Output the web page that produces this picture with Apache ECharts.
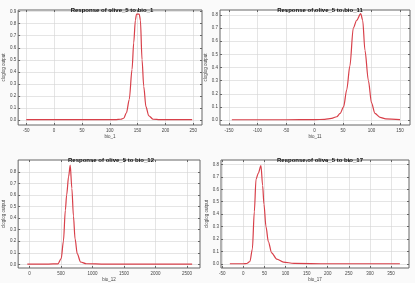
<!DOCTYPE html>
<html>
<head>
<meta charset="utf-8">
<script src="https://cdn.jsdelivr.net/npm/echarts@6/dist/echarts.min.js"></script>
<style>
html,body{margin:0;padding:0;background:#fff;}
#chart{width:415px;height:283px;}
</style>
</head>
<body>
<div id="chart"></div>
<script>
// response curves, one small set of arrays per panel
var titles = ["Response of olive_5 to bio_1", "Response of olive_5 to bio_11",
              "Response of olive_5 to bio_12", "Response of olive_5 to bio_17"];
var xNames = ["bio_1", "bio_11", "bio_12", "bio_17"];
var yName = "cloglog output";

var bio1X = [-50, 0, 50, 100, 110, 120, 125, 130, 135, 140, 143, 146, 148, 153, 155, 158, 161, 165, 170, 178, 190, 220, 248];
var bio1Y = [0.002, 0.002, 0.002, 0.002, 0.003, 0.006, 0.014, 0.06, 0.17, 0.42, 0.64, 0.83, 0.88, 0.88, 0.83, 0.5, 0.28, 0.11, 0.035, 0.006, 0.002, 0.002, 0.002];

var bio11X = [-145, -100, -50, 0, 18, 30, 39, 45, 51, 56.5, 62, 68, 74, 81, 84.5, 88.5, 94.5, 100, 106, 115, 125, 150];
var bio11Y = [0.002, 0.002, 0.002, 0.003, 0.005, 0.012, 0.025, 0.05, 0.1, 0.23, 0.41, 0.7, 0.76, 0.81, 0.76, 0.53, 0.3, 0.13, 0.05, 0.02, 0.008, 0.003];

var bio12X = [-35, 0, 300, 450, 503, 538, 569, 589, 620, 646, 672, 697, 723, 758, 811, 900, 1200, 2580];
var bio12Y = [0.002, 0.002, 0.002, 0.004, 0.05, 0.2, 0.47, 0.6, 0.76, 0.86, 0.66, 0.42, 0.22, 0.09, 0.02, 0.005, 0.002, 0.002];

var bio17X = [-32, 0, 8, 15.6, 21.3, 26, 30, 35.5, 41.7, 45.7, 48.8, 53.6, 59.2, 67, 79, 95, 120, 200, 371];
var bio17Y = [0.002, 0.002, 0.004, 0.02, 0.12, 0.42, 0.68, 0.73, 0.79, 0.63, 0.48, 0.3, 0.18, 0.09, 0.04, 0.015, 0.005, 0.002, 0.002];

var xTicks = [
    [-50, 0, 50, 100, 150, 200, 250],
    [-150, -100, -50, 0, 50, 100, 150],
    [0, 500, 1000, 1500, 2000, 2500],
    [-50, 0, 50, 100, 150, 200, 250, 300, 350]
];
var yTicks = [
    [0, 0.1, 0.2, 0.3, 0.4, 0.5, 0.6, 0.7, 0.8, 0.9],
    [0, 0.1, 0.2, 0.3, 0.4, 0.5, 0.6, 0.7, 0.8],
    [0, 0.1, 0.2, 0.3, 0.4, 0.5, 0.6, 0.7, 0.8],
    [0, 0.1, 0.2, 0.3, 0.4, 0.5, 0.6, 0.7, 0.8]
];
var xRange = [[-64.6, 265.7], [-165.8, 167.5], [-180, 2705], [-53, 392.6]];
var yRange = [[-0.042, 0.914], [-0.038, 0.838], [-0.032, 0.905], [-0.032, 0.835]];

var curvesX = [bio1X, bio11X, bio12X, bio17X];
var curvesY = [bio1Y, bio11Y, bio12Y, bio17Y];

// panel boxes
var boxes = [
    {left: 12, top: 10, width: 190, height: 115},
    {left: 220, top: 10, width: 190, height: 115},
    {left: 12, top: 160, width: 188, height: 116},
    {left: 221, top: 160, width: 188, height: 116}
];

var FONT = "Liberation Sans";
var grids = [], xAxes = [], yAxes = [], series = [], titleList = [];

function pairs(xs, ys){
    var out = [];
    for(var i=0;i<xs.length;i++){ out.push([xs[i], ys[i]]); }
    return out;
}

var tickStyle = {color:'#666'};
var gridLine = {show:true, lineStyle:{color:'#d4d4d4', width:0.6}};

for(var p=0;p<4;p++){
    var b = boxes[p];
    grids.push({left:b.left, top:b.top, width:b.width, height:b.height,
        show:true, backgroundColor:'#fff', borderColor:'#666', borderWidth:1});
    titleList.push({
        text: titles[p],
        left: b.left + b.width/2, top: b.top - 8, textAlign: 'center',
        textStyle: {fontSize: 6, fontWeight: 'bold', color: '#111', fontFamily: FONT}
    });
    // bottom x axis with labels
    xAxes.push({
        type:'value', gridIndex:p, position:'bottom', min:xRange[p][0], max:xRange[p][1],
        name: xNames[p], nameLocation:'middle', nameGap:9,
        nameTextStyle:{fontSize:4.5, color:'#444', fontFamily:FONT},
        axisLine:{show:false, onZero:false},
        axisTick:{inside:true, length:2, customValues:xTicks[p], lineStyle:tickStyle},
        axisLabel:{fontSize:4.5, color:'#444', margin:3, fontFamily:FONT, customValues:xTicks[p],
            formatter:function(v){ return String(v); }},
        splitLine:gridLine
    });
    // top mirror for ticks
    xAxes.push({
        type:'value', gridIndex:p, position:'top', min:xRange[p][0], max:xRange[p][1],
        axisLine:{show:false, onZero:false},
        axisTick:{inside:true, length:2, customValues:xTicks[p], lineStyle:tickStyle},
        axisLabel:{show:false}, splitLine:{show:false}
    });
    yAxes.push({
        type:'value', gridIndex:p, position:'left', min:yRange[p][0], max:yRange[p][1],
        name: yName, nameLocation:'middle', nameGap:10.5,
        nameTextStyle:{fontSize:4.5, color:'#444', fontFamily:FONT},
        axisLine:{show:false, onZero:false},
        axisTick:{inside:true, length:2, customValues:yTicks[p], lineStyle:tickStyle},
        axisLabel:{fontSize:4.5, color:'#444', margin:2, fontFamily:FONT, customValues:yTicks[p],
            formatter:function(v){ return v.toFixed(1); }},
        splitLine:gridLine
    });
    yAxes.push({
        type:'value', gridIndex:p, position:'right', min:yRange[p][0], max:yRange[p][1],
        axisLine:{show:false, onZero:false},
        axisTick:{inside:true, length:2, customValues:yTicks[p], lineStyle:tickStyle},
        axisLabel:{show:false}, splitLine:{show:false}
    });
    series.push({
        type:'line', xAxisIndex:p*2, yAxisIndex:p*2,
        data: pairs(curvesX[p], curvesY[p]),
        showSymbol:false, smooth:0.3, smoothMonotone:'x',
        lineStyle:{color:'#d8404a', width:1.2}
    });
}

var chart = echarts.init(document.getElementById('chart'), null, {renderer:'canvas'});
chart.setOption({
    backgroundColor:'#fafafa',
    animation:false,
    title: titleList,
    grid: grids,
    xAxis: xAxes,
    yAxis: yAxes,
    series: series
});
</script>
</body>
</html>
